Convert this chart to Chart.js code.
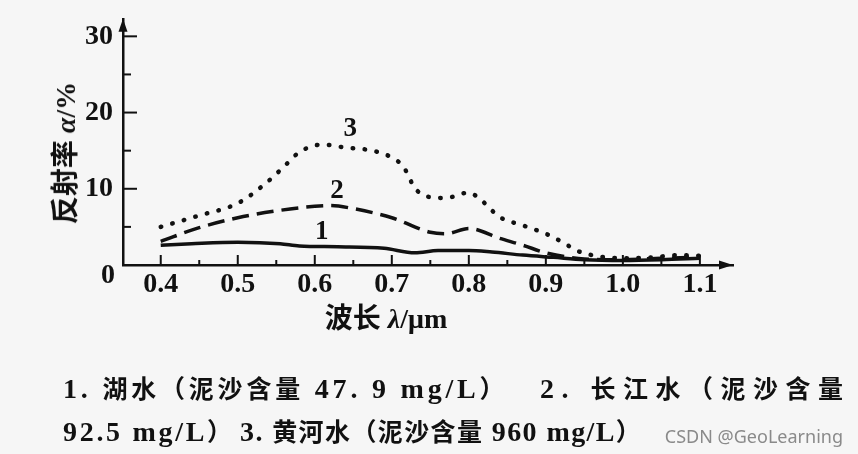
<!DOCTYPE html>
<html>
<head>
<meta charset="utf-8">
<script src="https://cdn.jsdelivr.net/npm/chart.js@4.4.0/dist/chart.umd.min.js"></script>
<style>
body{margin:0;background:#f6f6f6;}
#wrap{position:relative;width:858px;height:454px;overflow:hidden;font-family:"Liberation Serif","Noto Sans CJK SC",serif;color:#111;}
canvas{position:absolute;left:0;top:0;}
.t{position:absolute;font-weight:bold;white-space:nowrap;line-height:1;}
#ytitle{left:66px;top:153px;font-size:28px;transform:translate(-50%,-50%) rotate(-90deg);}
#xtitle{left:386px;top:319px;font-size:28px;transform:translate(-50%,-50%);}
.cap{position:absolute;font-size:28px;font-weight:bold;line-height:30px;white-space:pre;}
.zh{font-family:"Noto Sans CJK SC",sans-serif;font-size:25px;}
#cap1a{left:63px;top:372px;letter-spacing:3.8px;}
#cap1b{left:540px;top:372px;letter-spacing:7.5px;}
#cap2a{left:63px;top:415px;letter-spacing:2.7px;}
#cap2b{left:240px;top:415px;letter-spacing:1.4px;}
#mark{position:absolute;right:15px;top:424px;font-family:"Noto Sans",sans-serif;font-size:18px;color:#8a8a8a;}
</style>
</head>
<body>
<div id="wrap">
<canvas id="graf" width="858" height="454"></canvas>
<div class="t" id="ytitle">反射率 <i>α</i>/%</div>
<div class="t" id="xtitle">波长 <i>λ</i>/μm</div>
<div class="cap" id="cap1a">1. <span class="zh">湖水（泥沙含量</span> 47. 9 mg/L<span class="zh">）</span></div>
<div class="cap" id="cap1b">2. <span class="zh">长江水（泥沙含量</span></div>
<div class="cap" id="cap2a">92.5 mg/L<span class="zh">）</span></div>
<div class="cap" id="cap2b">3. <span class="zh">黄河水（泥沙含量</span> 960 mg/L<span class="zh">）</span></div>
<div id="mark">CSDN @GeoLearning</div>
</div>
<script>
// 1 湖水
var jezeroX=[0.40,0.44,0.50,0.555,0.58,0.63,0.69,0.73,0.76,0.80,0.83,0.87,0.91,0.95,1.00,1.05,1.10];
var jezeroY=[2.6,2.8,3.0,2.8,2.5,2.4,2.2,1.6,1.9,1.9,1.7,1.3,1.0,0.7,0.6,0.7,0.9];
// 2 长江水
var jangceX=[0.40,0.45,0.50,0.55,0.60,0.62,0.65,0.70,0.75,0.77,0.80,0.84,0.87,0.90,0.95,1.00,1.05,1.10];
var jangceY=[3.1,4.9,6.2,7.1,7.7,7.8,7.4,6.2,4.3,4.1,4.8,3.5,2.6,1.6,0.8,0.7,0.9,1.0];
// 3 黄河水
var huangheX=[0.40,0.45,0.50,0.535,0.558,0.58,0.61,0.64,0.675,0.70,0.715,0.73,0.745,0.77,0.80,0.815,0.84,0.87,0.90,0.925,0.94,0.97,1.00,1.04,1.07,1.10];
var huangheY=[5.0,6.5,8.1,10.6,12.7,14.8,15.8,15.4,15.0,14.1,12.9,10.1,9.0,8.8,9.5,8.6,6.3,5.2,4.1,2.8,1.9,1.1,0.9,1.0,1.3,1.2];

var xOznake=[0.4,0.5,0.6,0.7,0.8,0.9,1.0,1.1];
var xMale=[0.45,0.55,0.65,0.75,0.85,0.95,1.05];
var yOznake=[10,20,30];
var yMale=[5,15,25];
var imenaKrivulja=['1','2','3'];
var imenaX=[0.609,0.629,0.646];
var imenaY=[4.3,9.7,17.9];

var boja='#111';
var fontBroj={family:'Liberation Serif',size:28,weight:'bold'};

function tocke(xs,ys){
    return xs.map(function(x,i){return {x:x,y:ys[i]};});
}

var dodaci={
    id:'dodaci',
    afterDraw:function(chart){
        var c=chart.ctx, xs=chart.scales.x, ys=chart.scales.y, a=chart.chartArea;
        var y0=ys.getPixelForValue(0), x0=a.left;
        c.save();
        c.strokeStyle=boja; c.fillStyle=boja; c.lineWidth=2;
        function crta(x1,y1,x2,y2){c.beginPath();c.moveTo(x1,y1);c.lineTo(x2,y2);c.stroke();}
        xOznake.forEach(function(v){var p=xs.getPixelForValue(v);crta(p,y0,p,y0-10);});
        xMale.forEach(function(v){var p=xs.getPixelForValue(v);crta(p,y0,p,y0-5);});
        yOznake.forEach(function(v){var p=ys.getPixelForValue(v);crta(x0,p,x0+14,p);});
        yMale.forEach(function(v){var p=ys.getPixelForValue(v);crta(x0,p,x0+8,p);});
        // strelice
        c.beginPath();c.moveTo(x0,a.top);c.lineTo(x0-4.5,a.top+13);c.lineTo(x0+4.5,a.top+13);c.closePath();c.fill();
        c.beginPath();c.moveTo(a.right,y0);c.lineTo(a.right-14,y0-4.5);c.lineTo(a.right-14,y0+4.5);c.closePath();c.fill();
        // nula
        c.font='bold 28px "Liberation Serif"';
        c.textAlign='right'; c.textBaseline='middle';
        c.fillText('0',x0-8,y0+11);
        // brojevi krivulja
        c.font='bold 27px "Liberation Serif"';
        c.textAlign='center';
        imenaKrivulja.forEach(function(t,i){
            c.fillText(t,xs.getPixelForValue(imenaX[i]),ys.getPixelForValue(imenaY[i]));
        });
        c.restore();
    }
};

var graf=new Chart(document.getElementById('graf'),{
    type:'line',
    data:{
        datasets:[{
            data:tocke(jezeroX,jezeroY),
            borderColor:boja, borderWidth:3.5, pointRadius:0, fill:false,
            cubicInterpolationMode:'monotone'
        },{
            data:tocke(jangceX,jangceY),
            borderColor:boja, borderWidth:3.5, pointRadius:0, fill:false,
            borderDash:[17,8], cubicInterpolationMode:'monotone'
        },{
            data:tocke(huangheX,huangheY),
            borderColor:boja, borderWidth:4.5, pointRadius:0, fill:false,
            borderDash:[0.5,11.5], borderCapStyle:'round', cubicInterpolationMode:'monotone'
        }]
    },
    options:{
        responsive:false,
        animation:false,
        devicePixelRatio:1,
        layout:{padding:{left:83,top:15,right:125,bottom:149}},
        plugins:{legend:{display:false},tooltip:{enabled:false}},
        scales:{
            x:{
                type:'linear', min:0.351, max:1.143,
                afterFit:function(s){s.height=40;},
                afterBuildTicks:function(s){s.ticks=xOznake.map(function(v){return {value:v};});},
                ticks:{padding:-5,font:fontBroj,color:boja,maxRotation:0,autoSkip:false,
                    callback:function(v){return v.toFixed(1);}},
                grid:{display:false},
                border:{display:true,color:boja,width:2.5}
            },
            y:{
                type:'linear', min:0, max:32.3,
                afterFit:function(s){s.width=40;},
                afterBuildTicks:function(s){s.ticks=yOznake.map(function(v){return {value:v};});},
                ticks:{padding:2,font:fontBroj,color:boja,
                    callback:function(v){return String(v);}},
                grid:{display:false},
                border:{display:true,color:boja,width:2.5}
            }
        }
    },
    plugins:[dodaci]
});
</script>
</body>
</html>
